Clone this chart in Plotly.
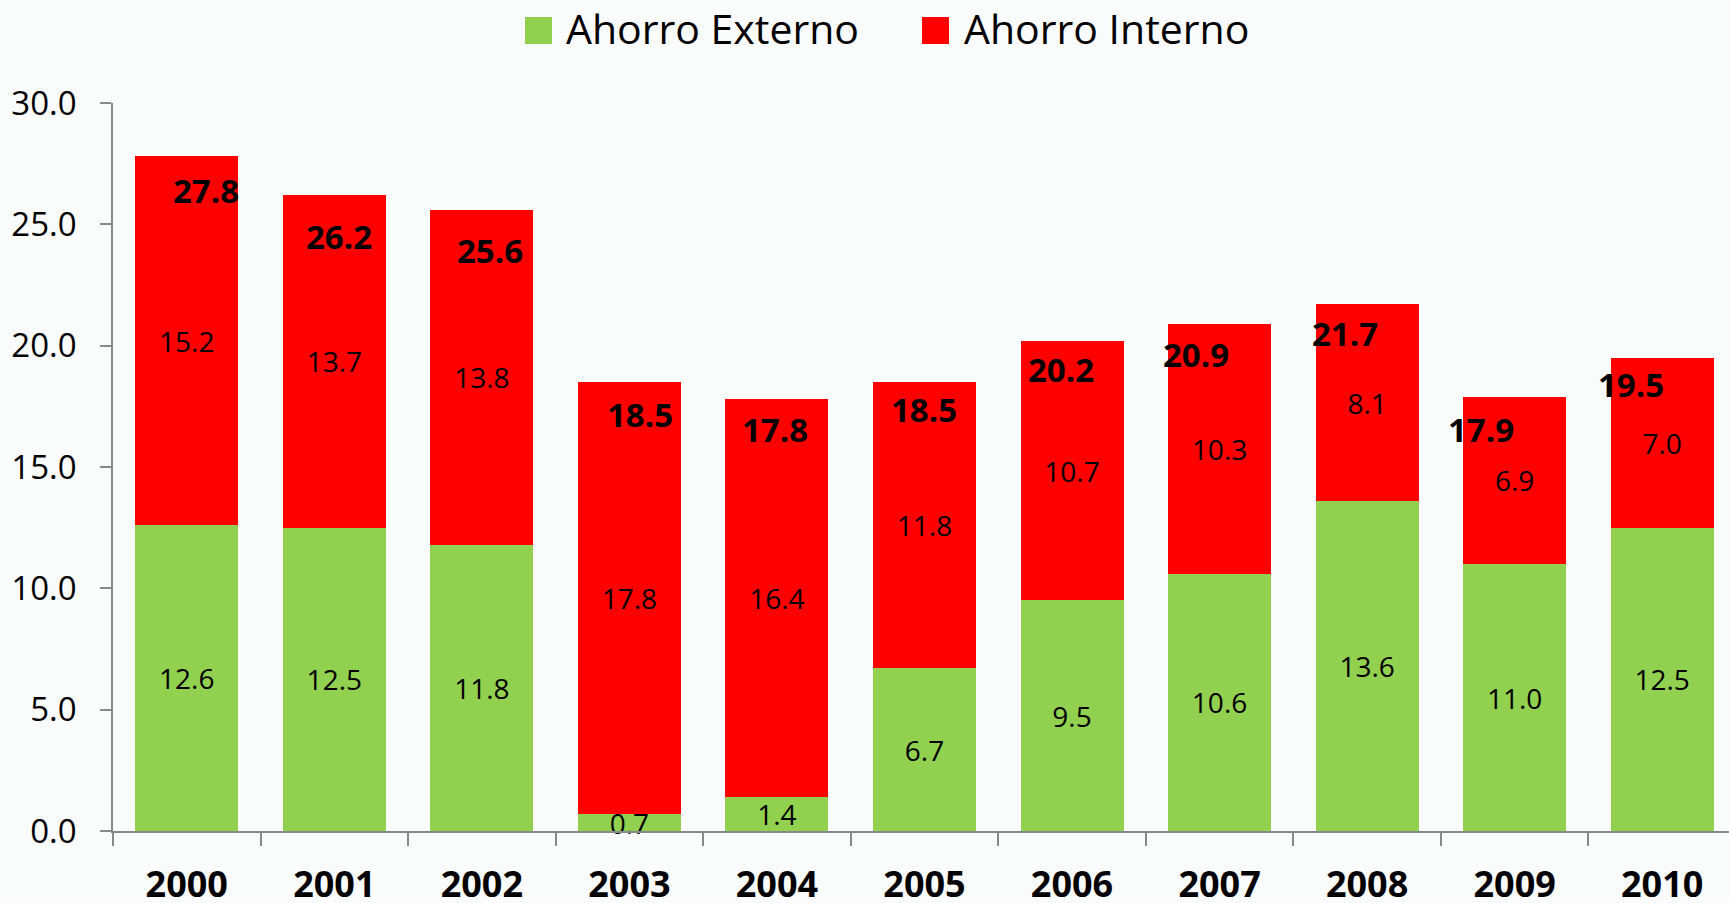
import plotly.graph_objects as go

# Ahorro externo / interno (% del PIB), 2000-2010
years = ["2000", "2001", "2002", "2003", "2004", "2005",
         "2006", "2007", "2008", "2009", "2010"]
ahorro_externo = [12.6, 12.5, 11.8, 0.7, 1.4, 6.7, 9.5, 10.6, 13.6, 11.0, 12.5]
ahorro_interno = [15.2, 13.7, 13.8, 17.8, 16.4, 11.8, 10.7, 10.3, 8.1, 6.9, 7.0]
totales = [27.8, 26.2, 25.6, 18.5, 17.8, 18.5, 20.2, 20.9, 21.7, 17.9, 19.5]

# where the bold total labels sit relative to the bar top (pixels)
total_xshift = [19, 5, 8, 11, -2, 0, -11, -24, -22, -34, -31]
total_yshift = [-34, -41, -41, -32, -30, -27, -29, -31, -29, -33, -27]

W, H = 1729, 903
L, R, T, B = 113, 0, 103, 72
FONT = "Open Sans"
GREEN = "#92D050"
RED = "#FF0000"
AXIS = "#898989"
BG = "#FAFBFB"


def px_x(x):
    return (x - L) / (W - L - R)


def px_y(y):
    return (H - B - y) / (H - T - B)


fig = go.Figure()

fig.add_trace(go.Bar(
    x=years, y=ahorro_externo, name="Ahorro Externo",
    marker=dict(color=GREEN, line=dict(width=0)),
    texttemplate="%{y:.1f}", textposition="inside", insidetextanchor="middle",
    constraintext="none", textangle=0, cliponaxis=False,
    textfont=dict(family=FONT, size=28, color="black"),
))
fig.add_trace(go.Bar(
    x=years, y=ahorro_interno, name="Ahorro Interno",
    marker=dict(color=RED, line=dict(width=0)),
    texttemplate="%{y:.1f}", textposition="inside", insidetextanchor="middle",
    constraintext="none", textangle=0, cliponaxis=False,
    textfont=dict(family=FONT, size=28, color="black"),
))

# category axis -> annotations need the category index
for i, (tot, dx, dy) in enumerate(zip(totales, total_xshift, total_yshift)):
    fig.add_annotation(
        x=i, y=tot, text=f"{tot:.1f}", showarrow=False,
        xshift=dx, yshift=dy, xanchor="center", yanchor="middle",
        font=dict(family=FONT, size=33, color="black", weight=700),
    )

# legend drawn by hand so the swatches can be as big as the original
legend_items = [("Ahorro Externo", GREEN, 525, 564), ("Ahorro Interno", RED, 922, 962)]
for label, color, sq_x, txt_x in legend_items:
    fig.add_shape(
        type="rect", xref="paper", yref="paper",
        x0=px_x(sq_x), x1=px_x(sq_x + 27), y0=px_y(44), y1=px_y(17),
        fillcolor=color, line=dict(width=0),
    )
    fig.add_annotation(
        x=px_x(txt_x), y=px_y(28), xref="paper", yref="paper",
        text=label, showarrow=False, xanchor="left", yanchor="middle",
        font=dict(family=FONT, size=41, color="black"),
    )

fig.update_layout(
    width=W, height=H,
    margin=dict(l=L, r=R, t=T, b=B, pad=0),
    barmode="stack", bargap=0.302,
    showlegend=False,
    paper_bgcolor=BG, plot_bgcolor=BG,
    font=dict(family=FONT, color="black"),
)
fig.update_xaxes(
    type="category", range=[-0.5, 10.453], tickson="boundaries",
    showline=True, linecolor=AXIS, linewidth=1.5,
    ticks="outside", ticklen=13, tickwidth=1.5, tickcolor=AXIS,
    tickfont=dict(family=FONT, size=36, color="black", weight=700),
    ticklabelstandoff=21, showgrid=False, zeroline=False, automargin=False,
)
fig.update_yaxes(
    range=[0, 30], dtick=5, tickformat=".1f",
    showline=True, linecolor=AXIS, linewidth=1.5,
    ticks="outside", ticklen=11, tickwidth=1.5, tickcolor=AXIS,
    tickfont=dict(family=FONT, size=33, color="black"),
    ticklabelstandoff=17, showgrid=False, zeroline=False, automargin=False,
)

# drop the browser's default body margin so the figure sits at the page corner
fig.write_html("out.html", config={"displayModeBar": False},
               post_script="document.body.style.margin='0';"
               "document.body.style.background='" + BG + "';")
